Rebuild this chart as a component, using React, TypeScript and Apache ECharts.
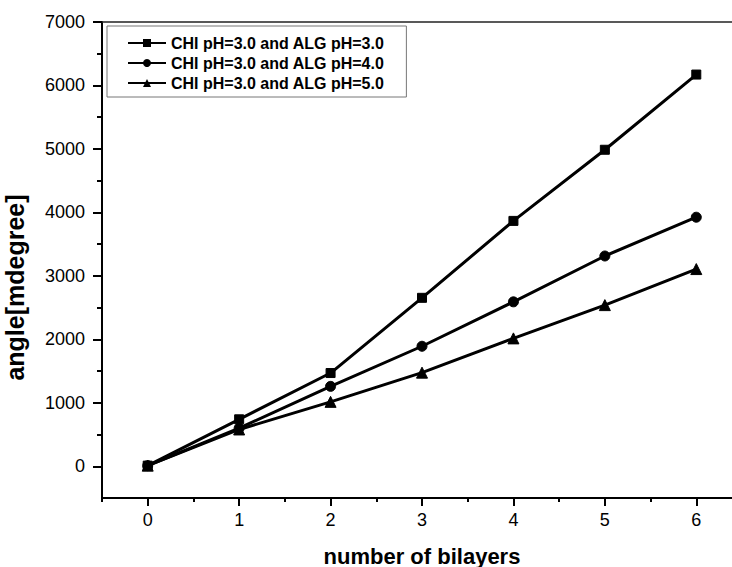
import React, { useEffect, useRef } from "react";
import * as echarts from "echarts";

const bilayers = [0, 1, 2, 3, 4, 5, 6];
const alg30 = [10, 740, 1469, 2654, 3866, 4987, 6172];
const alg40 = [10, 600, 1259, 1891, 2591, 3313, 3924];
const alg50 = [10, 580, 1015, 1475, 2015, 2539, 3107];
const seriesNames = [
  "CHI pH=3.0 and ALG pH=3.0",
  "CHI pH=3.0 and ALG pH=4.0",
  "CHI pH=3.0 and ALG pH=5.0",
];
const xMajor = [0, 1, 2, 3, 4, 5, 6];
const xMinor = [-0.5, 0.5, 1.5, 2.5, 3.5, 4.5, 5.5, 6.5];
const yMajor = [0, 1000, 2000, 3000, 4000, 5000, 6000, 7000];
const yMinor = [500, 1500, 2500, 3500, 4500, 5500, 6500];

const FONT = "'Liberation Sans', Arial, sans-serif";

export default function App() {
  const ref = useRef<HTMLDivElement>(null);
  useEffect(() => {
    if (!ref.current) return;
    const chart = echarts.init(ref.current, null, { renderer: "svg" });
    const mk = (ys: number[]) => bilayers.map((x, i) => [x, ys[i]]);
    const symbols = ["rect", "circle", "triangle"];
    const sizes = [9, 10, 11];
    const data = [alg30, alg40, alg50];
    const plain = (v: number) => String(v);
    chart.setOption({
      animation: false,
      backgroundColor: "#fff",
      textStyle: { fontFamily: FONT, color: "#000" },
      grid: { left: 102, right: 18, top: 22, bottom: 69, outerBoundsMode: "none", containLabel: false },
      legend: {
        orient: "vertical",
        left: 107,
        top: 26,
        padding: [9, 22, 6, 20],
        itemGap: 4,
        itemWidth: 38,
        itemHeight: 10,
        borderColor: "#777",
        borderWidth: 1,
        data: seriesNames,
        textStyle: { fontFamily: FONT, fontSize: 16, fontWeight: "bold", color: "#000", lineHeight: 16 },
      },
      xAxis: [
        {
          type: "value",
          min: -0.5,
          max: 6.5,
          position: "bottom",
          name: "number of bilayers",
          nameLocation: "middle",
          nameGap: 47,
          nameTextStyle: { fontFamily: FONT, fontSize: 22, fontWeight: "bold", color: "#000" },
          axisLine: { show: true, onZero: false, lineStyle: { color: "#000", width: 2 } },
          axisTick: { show: true, inside: false, length: 8, lineStyle: { color: "#000", width: 2 }, customValues: xMajor },
          axisLabel: { show: true, margin: 13, fontSize: 18, color: "#000", fontFamily: FONT, customValues: xMajor, formatter: plain },
          splitLine: { show: false },
        },
        {
          type: "value",
          min: -0.5,
          max: 6.5,
          position: "bottom",
          axisLine: { show: false, onZero: false },
          axisTick: { show: true, inside: false, length: 4, lineStyle: { color: "#000", width: 2 }, customValues: xMinor },
          axisLabel: { show: false },
          splitLine: { show: false },
        },
        {
          type: "value",
          min: -0.5,
          max: 6.5,
          position: "top",
          axisLine: { show: true, onZero: false, lineStyle: { color: "#222", width: 1.5 } },
          axisTick: { show: false },
          axisLabel: { show: false },
          splitLine: { show: false },
        },
      ],
      yAxis: [
        {
          type: "value",
          min: -500,
          max: 7000,
          position: "left",
          name: "angle[mdegree]",
          nameLocation: "middle",
          nameGap: 75,
          nameTextStyle: { fontFamily: FONT, fontSize: 25, fontWeight: "bold", color: "#000", padding: [0, 55, 0, 0] },
          axisLine: { show: true, onZero: false, lineStyle: { color: "#000", width: 2 } },
          axisTick: { show: true, inside: false, length: 9, lineStyle: { color: "#000", width: 2 }, customValues: yMajor },
          axisLabel: { show: true, margin: 17, fontSize: 18, color: "#000", fontFamily: FONT, customValues: yMajor, formatter: plain },
          splitLine: { show: false },
        },
        {
          type: "value",
          min: -500,
          max: 7000,
          position: "left",
          axisLine: { show: false, onZero: false },
          axisTick: { show: true, inside: false, length: 5, lineStyle: { color: "#000", width: 2 }, customValues: yMinor },
          axisLabel: { show: false },
          splitLine: { show: false },
        },
      ],
      series: data.map((ys, i) => ({
        name: seriesNames[i],
        type: "line",
        xAxisIndex: 0,
        yAxisIndex: 0,
        data: mk(ys),
        symbol: symbols[i],
        symbolSize: sizes[i],
        showAllSymbol: true,
        lineStyle: { color: "#000", width: 3 },
        itemStyle: { color: "#000", borderColor: "#000" },
        z: 3 - i,
      })),
    });
    return () => chart.dispose();
  }, []);
  return (
    <div style={{ width: 732, height: 567, position: "absolute", left: 0, top: 0, overflow: "hidden", background: "#fff" }}>
      <div ref={ref} style={{ width: 760, height: 567, position: "absolute", left: 0, top: 0 }} />
    </div>
  );
}
